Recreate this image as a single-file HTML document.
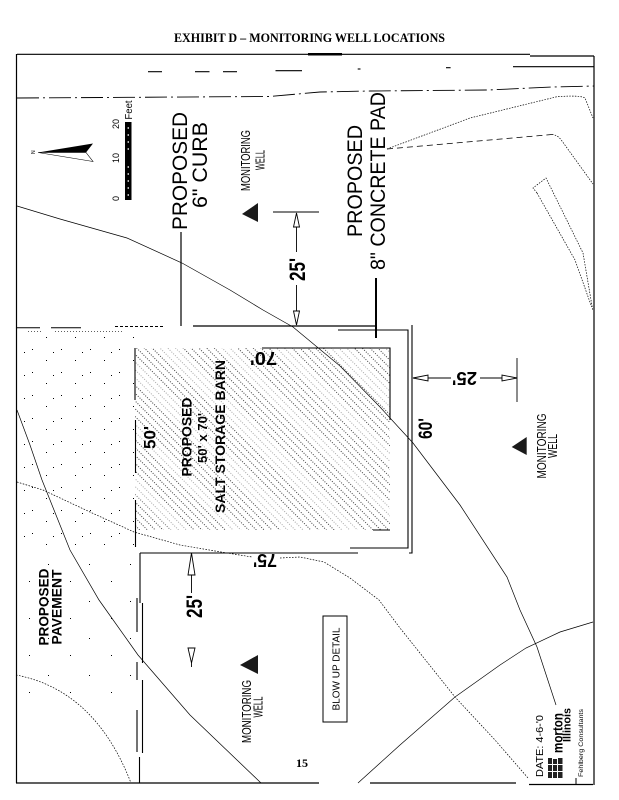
<!DOCTYPE html>
<html><head><meta charset="utf-8"><style>
html,body{margin:0;padding:0;background:#fff;}
svg{display:block;}
text{font-family:"Liberation Sans",Arial,sans-serif;fill:#000;}
.serif{font-family:"Liberation Serif","Times New Roman",serif;}
</style></head><body>
<svg width="619" height="800" viewBox="0 0 619 800" xmlns="http://www.w3.org/2000/svg">
<defs>
<pattern id="hatch" width="7.5" height="5.5" patternUnits="userSpaceOnUse" patternTransform="rotate(45)">
<line x1="0" y1="1" x2="7.5" y2="1" stroke="#000" stroke-width="0.8" stroke-dasharray="1 1.5"/>
</pattern>
<pattern id="hatch2" width="40" height="40" patternUnits="userSpaceOnUse" patternTransform="rotate(45)">
<rect x="0" y="0" width="40" height="14" fill="#fff" opacity="0.55"/>
</pattern>
<pattern id="dots" width="29" height="23" patternUnits="userSpaceOnUse">
<rect x="3" y="4" width="1" height="1" fill="#000"/>
<rect x="17" y="15" width="1" height="1" fill="#000"/>
<rect x="24" y="7" width="1" height="1" fill="#000"/>
</pattern>
<pattern id="dots2" width="41" height="37" patternUnits="userSpaceOnUse">
<rect x="7" y="9" width="1" height="1" fill="#000"/>
<rect x="29" y="26" width="1" height="1" fill="#000"/>
</pattern>
</defs>
<rect width="619" height="800" fill="#fff"/>

<!-- Title -->
<text class="serif" x="174" y="42" font-size="13" font-weight="bold" textLength="271" lengthAdjust="spacingAndGlyphs">EXHIBIT D – MONITORING WELL LOCATIONS</text>

<!-- Frame -->
<g stroke="#000" fill="none">
<line x1="17" y1="54.3" x2="530" y2="54.3" stroke-width="1.2"/>
<line x1="308" y1="54.3" x2="342" y2="54.3" stroke-width="2.5"/>
<line x1="530" y1="56" x2="594" y2="56" stroke-width="1.2"/>
<line x1="594" y1="56" x2="594" y2="785" stroke-width="1.2"/>
<line x1="16.5" y1="54" x2="16.5" y2="783" stroke-width="1.2"/>
<line x1="16" y1="783" x2="319" y2="783" stroke-width="1.2"/>
<line x1="370" y1="783" x2="516" y2="783" stroke-width="1.2"/>
<line x1="529" y1="784.5" x2="593" y2="784.5" stroke-width="1.2"/>
</g>

<!-- top dashes row -->
<g stroke="#000" stroke-width="1.1">
<line x1="148" y1="71.7" x2="162" y2="71.7"/>
<line x1="195" y1="71.7" x2="209.5" y2="71.7"/>
<line x1="223" y1="71.7" x2="237" y2="71.7"/>
<line x1="275.5" y1="70.7" x2="302" y2="70.7"/>
<line x1="357.7" y1="69" x2="360.5" y2="69"/>
<line x1="446" y1="67.7" x2="450.6" y2="67.7"/>
<line x1="513" y1="66.7" x2="594" y2="66.7"/>
</g>

<!-- dash-dot road line -->
<polyline points="17,98 270,96.5 320,92 370,91 488,90 552,87 594,86" fill="none" stroke="#000" stroke-width="0.9" stroke-dasharray="22 4 2 4"/>

<!-- top right curb lines -->
<path d="M387,149 L470,118 L557,96.7 Q580,95 585,98 L593,118" fill="none" stroke="#000" stroke-width="0.7" stroke-dasharray="1.5 1.3"/>
<path d="M387,149 L552,134.5" fill="none" stroke="#000" stroke-width="0.8" stroke-dasharray="6 4"/>
<path d="M552,134.5 Q558,135 562,141 L593,184" fill="none" stroke="#000" stroke-width="0.7" stroke-dasharray="1.5 1.3"/>
<path d="M537,193 L533,188 L546,178 L583,253 L592.7,310" fill="none" stroke="#000" stroke-width="0.7" stroke-dasharray="1.5 1.3"/>
<path d="M537,193 L575,260 L591.7,307" fill="none" stroke="#000" stroke-width="0.7" stroke-dasharray="1.5 1.3"/>

<!-- North arrow -->
<polygon points="38,152.5 93,143.5 86,152.5" fill="#000"/>
<polygon points="38,152.5 86,152.5 93,161.5" fill="none" stroke="#000" stroke-width="0.6"/>
<text transform="translate(35,154) rotate(-90)" font-size="5">N</text>

<!-- Scale bar -->
<rect x="125" y="122" width="6.5" height="78" fill="#000"/>
<g fill="#fff">
<rect x="127.7" y="127" width="1" height="2"/><rect x="127.7" y="134" width="1" height="2"/>
<rect x="127.7" y="141" width="1" height="2"/><rect x="127.7" y="148" width="1" height="2"/>
<rect x="127.7" y="166" width="1" height="2"/><rect x="127.7" y="173" width="1" height="2"/>
<rect x="127.7" y="180" width="1" height="2"/><rect x="127.7" y="187" width="1" height="2"/>
<rect x="127.7" y="194" width="1" height="2"/>
</g>
<text transform="translate(119,129) rotate(-90)" font-size="9">20</text>
<text transform="translate(119,163) rotate(-90)" font-size="9">10</text>
<text transform="translate(119,201) rotate(-90)" font-size="9">0</text>
<text transform="translate(132,119.5) rotate(-90)" font-size="10" textLength="19" lengthAdjust="spacingAndGlyphs">Feet</text>

<!-- PROPOSED 6" CURB -->
<text transform="translate(187,230) rotate(-90)" font-size="21" textLength="118" lengthAdjust="spacingAndGlyphs">PROPOSED</text>
<text transform="translate(207,208) rotate(-90)" font-size="21" textLength="86" lengthAdjust="spacingAndGlyphs">6&quot; CURB</text>
<line x1="181" y1="232" x2="181" y2="326" stroke="#000" stroke-width="1.2"/>

<!-- Monitoring well 1 -->
<polygon points="242,214 258,203 258,222" fill="#1a1a1a"/>
<text transform="translate(250,160.5) rotate(-90)" text-anchor="middle" font-size="12.5" textLength="61" lengthAdjust="spacingAndGlyphs">MONITORING</text>
<text transform="translate(264.5,160) rotate(-90)" text-anchor="middle" font-size="12.5" textLength="20" lengthAdjust="spacingAndGlyphs">WELL</text>

<!-- dimension 25' top -->
<g stroke="#000" stroke-width="0.9" fill="#fff">
<line x1="273" y1="212" x2="319" y2="212"/>
<line x1="296.5" y1="227" x2="296.5" y2="252"/>
<line x1="296.5" y1="285" x2="296.5" y2="311"/>
<polygon points="296.5,213 293.5,227 299.5,227"/>
<polygon points="296.5,325 293.5,311 299.5,311"/>
</g>
<text transform="translate(305,281) rotate(-90)" font-size="22" font-weight="bold" textLength="23" lengthAdjust="spacingAndGlyphs">25'</text>

<!-- PROPOSED 8" CONCRETE PAD -->
<text transform="translate(362,237) rotate(-90)" font-size="21" textLength="112" lengthAdjust="spacingAndGlyphs">PROPOSED</text>
<text transform="translate(385,270) rotate(-90)" font-size="21" textLength="178" lengthAdjust="spacingAndGlyphs">8&quot; CONCRETE PAD</text>
<line x1="376" y1="278" x2="376" y2="338" stroke="#000" stroke-width="2"/>

<!-- sparse dots left area -->
<rect x="18" y="333" width="116" height="220" fill="url(#dots)"/>
<rect x="18" y="556" width="118" height="150" fill="url(#dots2)"/>

<!-- hatched barn -->
<rect x="135" y="348" width="255" height="182" fill="url(#hatch)"/>
<rect x="135" y="348" width="255" height="182" fill="url(#hatch2)"/>

<!-- barn lines -->
<g stroke="#000" fill="none">
<line x1="193" y1="326" x2="376" y2="326" stroke-width="1.3"/>
<line x1="17" y1="327.7" x2="40" y2="327.7" stroke-width="1"/>
<line x1="51" y1="327.7" x2="81" y2="327.7" stroke-width="1"/>
<line x1="115" y1="326.5" x2="164" y2="326.5" stroke-width="0.9" stroke-dasharray="3 2"/>
<line x1="28" y1="331.7" x2="43" y2="331.7" stroke-width="0.6" stroke-dasharray="1 2"/>
<line x1="55" y1="331.7" x2="122" y2="331.7" stroke-width="0.6" stroke-dasharray="1 2"/>
<polyline points="338,330 408,330 408,548 350,548" stroke-width="1.1"/>
<polyline points="412,325 412,553 409,553" stroke-width="1.1"/>
<polyline points="262,348 390,348 390,420" stroke-width="1.1"/>
<line x1="373" y1="530" x2="390" y2="530" stroke-width="1"/>
<line x1="135" y1="348" x2="135" y2="400" stroke-width="1.1"/>
<line x1="135.5" y1="420" x2="135.5" y2="473" stroke-width="1.1"/>
<line x1="135.5" y1="500" x2="135.5" y2="547" stroke-width="1.1"/>
</g>

<!-- barn texts -->
<text transform="translate(155.5,449) rotate(-90)" font-size="17" font-weight="bold" textLength="23" lengthAdjust="spacingAndGlyphs">50'</text>
<text transform="translate(277,352) rotate(180)" font-size="18" font-weight="bold" textLength="27" lengthAdjust="spacingAndGlyphs">70'</text>
<text transform="translate(277,554) rotate(180)" font-size="18" font-weight="bold" textLength="24" lengthAdjust="spacingAndGlyphs">75'</text>
<text transform="translate(191.7,437) rotate(-90)" text-anchor="middle" font-size="14" font-weight="bold" textLength="79" lengthAdjust="spacingAndGlyphs">PROPOSED</text>
<text transform="translate(207,438) rotate(-90)" text-anchor="middle" font-size="13" font-weight="bold" textLength="50" lengthAdjust="spacingAndGlyphs">50' x 70'</text>
<text transform="translate(225,436.5) rotate(-90)" text-anchor="middle" font-size="14" font-weight="bold" textLength="153" lengthAdjust="spacingAndGlyphs">SALT STORAGE BARN</text>

<!-- right 25' dimension -->
<g stroke="#000" stroke-width="0.9" fill="#fff">
<line x1="428" y1="378" x2="451" y2="378"/>
<line x1="480" y1="378" x2="502" y2="378"/>
<line x1="517" y1="358" x2="517" y2="402"/>
<polygon points="413,378 428,375 428,381"/>
<polygon points="517,378 502,375 502,381"/>
</g>
<text transform="translate(477,372) rotate(180)" font-size="18" font-weight="bold" textLength="25" lengthAdjust="spacingAndGlyphs">25'</text>
<text transform="translate(432,439) rotate(-90)" font-size="19" font-weight="bold" textLength="21" lengthAdjust="spacingAndGlyphs">60'</text>

<!-- Monitoring well right -->
<polygon points="511.7,447 526.7,437 526.7,455" fill="#1a1a1a"/>
<text transform="translate(546,446) rotate(-90)" text-anchor="middle" font-size="12.5" textLength="65" lengthAdjust="spacingAndGlyphs">MONITORING</text>
<text transform="translate(557,446) rotate(-90)" text-anchor="middle" font-size="12.5" textLength="24" lengthAdjust="spacingAndGlyphs">WELL</text>

<!-- curves -->
<g fill="none" stroke="#000" stroke-width="0.7">
<path d="M17,206 L60,219 L127,238 L182,263 L230,290 L263,310 L293,327 L340,366 L380,407 L413,443 L460,505 L507,577 L520,610 L537,647 L556,705"/>
<path d="M17,410 L30,445 L42,480 L70,550 L99,600 L138,655 L190,715 L261,783"/>
<path d="M358,783 L400,745 L455,697 L500,665 L526,648 L560,632 L593,622"/>
</g>
<g fill="none" stroke="#000" stroke-width="0.7" stroke-dasharray="1.6 1.4">
<path d="M17,482 L43,490 L90,512 L134,532 L180,545 L221,552 L252,557"/>
<path d="M280,558 L300,557 L324,562 L350,578 L379,600 L400,628 L455,697 L495,740 L528,778"/>
<path d="M16,675 Q95,690 131,783"/>
</g>

<!-- lower left region lines -->
<g stroke="#000" fill="none" stroke-width="1.1">
<line x1="140" y1="553" x2="358" y2="553"/>
<line x1="140" y1="553" x2="140" y2="603"/>
<line x1="137" y1="598" x2="137" y2="632"/>
<line x1="137" y1="662" x2="137" y2="680"/>
<line x1="137" y1="710" x2="137" y2="752"/>
<line x1="142.5" y1="603" x2="142.5" y2="663"/>
<line x1="142.5" y1="680" x2="142.5" y2="753"/>
<line x1="139.5" y1="757" x2="139.5" y2="783"/>
</g>

<!-- lower 25' dimension -->
<g stroke="#000" stroke-width="0.9" fill="#fff">
<line x1="191.5" y1="575" x2="191.5" y2="593"/>
<polygon points="191.5,553 188,575 195,575"/>
<polygon points="188,648 195,648 191.5,663"/>
<line x1="191.5" y1="663" x2="191.5" y2="667"/>
</g>
<text transform="translate(202,618) rotate(-90)" font-size="22" font-weight="bold" textLength="23" lengthAdjust="spacingAndGlyphs">25'</text>

<!-- PROPOSED PAVEMENT -->
<text transform="translate(48.5,607) rotate(-90)" text-anchor="middle" font-size="14" font-weight="bold" textLength="77" lengthAdjust="spacingAndGlyphs">PROPOSED</text>
<text transform="translate(61.5,607) rotate(-90)" text-anchor="middle" font-size="14" font-weight="bold" textLength="75" lengthAdjust="spacingAndGlyphs">PAVEMENT</text>

<!-- Monitoring well lower -->
<polygon points="240,665 258,655 258,674" fill="#1a1a1a"/>
<text transform="translate(251,711.5) rotate(-90)" text-anchor="middle" font-size="12.5" textLength="63" lengthAdjust="spacingAndGlyphs">MONITORING</text>
<text transform="translate(262.5,707) rotate(-90)" text-anchor="middle" font-size="12.5" textLength="21" lengthAdjust="spacingAndGlyphs">WELL</text>

<!-- BLOW UP DETAIL -->
<rect x="323" y="616" width="24" height="106" fill="none" stroke="#000" stroke-width="1"/>
<text transform="translate(339.5,669) rotate(-90)" text-anchor="middle" font-size="10.5" textLength="83" lengthAdjust="spacingAndGlyphs">BLOW UP DETAIL</text>

<!-- page number -->
<text class="serif" x="296" y="767" font-size="12" font-weight="bold">15</text>

<!-- logo block -->
<line x1="576" y1="778" x2="576" y2="784.5" stroke="#000" stroke-width="1"/>
<text transform="translate(543,746) rotate(-90)" text-anchor="middle" font-size="10" textLength="62" lengthAdjust="spacingAndGlyphs">DATE: 4-6-'0</text>
<text transform="translate(562.5,733) rotate(-90)" text-anchor="middle" font-size="14" font-weight="bold" textLength="40" lengthAdjust="spacingAndGlyphs">morton</text>
<text transform="translate(570.5,725) rotate(-90)" text-anchor="middle" font-size="11" font-weight="bold" textLength="34" lengthAdjust="spacingAndGlyphs">Illinois</text>
<g fill="#222">
<rect x="548" y="758" width="4" height="20"/>
<rect x="553" y="759" width="4" height="19"/>
<rect x="558" y="758" width="4.5" height="20"/>
</g>
<g fill="#fff">
<rect x="548" y="764" width="15" height="1"/>
<rect x="548" y="771" width="15" height="1"/>
</g>
<text transform="translate(583,743) rotate(-90)" text-anchor="middle" font-size="6" textLength="68" lengthAdjust="spacingAndGlyphs">Fehlberg Consultants</text>

</svg>
</body></html>
